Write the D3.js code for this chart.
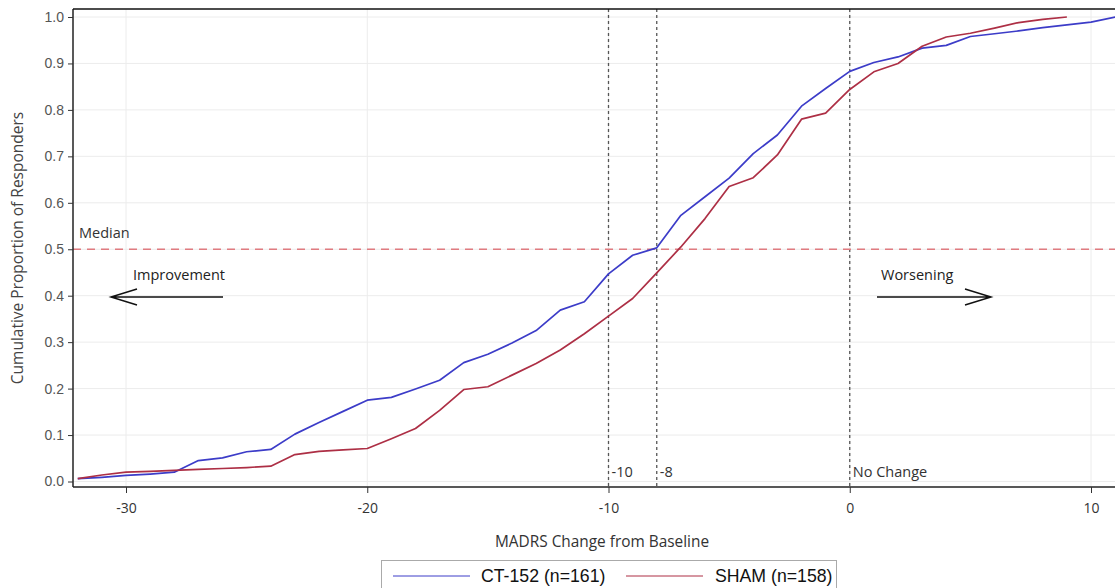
<!DOCTYPE html>
<html>
<head>
<meta charset="utf-8">
<script src="https://cdn.jsdelivr.net/npm/d3@7"></script>
<style>
  body { margin: 0; background: #fff; }
  svg { display: block; }
</style>
</head>
<body>
<div id="chart"></div>
<script>
const width = 1115
const height = 588

// MADRS change values (x) and cumulative proportions
const ctChange = [-32, -31, -30, -29, -28, -27, -26, -25, -24, -23, -22, -21, -20, -19, -18, -17, -16, -15, -14, -13, -12, -11, -10, -9, -8, -7, -6, -5, -4, -3, -2, -1, 0, 1, 2, 3, 4, 5, 6, 7, 8, 9, 10, 11]
const ctProp = [0.006, 0.009, 0.013, 0.016, 0.020, 0.045, 0.051, 0.064, 0.069, 0.102, 0.127, 0.151, 0.175, 0.181, 0.199, 0.218, 0.256, 0.274, 0.298, 0.325, 0.369, 0.387, 0.447, 0.487, 0.503, 0.573, 0.613, 0.653, 0.706, 0.746, 0.808, 0.846, 0.883, 0.902, 0.914, 0.933, 0.939, 0.958, 0.964, 0.970, 0.977, 0.983, 0.989, 1.0]

const shamChange = [-32, -31, -30, -29, -28, -27, -26, -25, -24, -23, -22, -21, -20, -19, -18, -17, -16, -15, -14, -13, -12, -11, -10, -9, -8, -7, -6, -5, -4, -3, -2, -1, 0, 1, 2, 3, 4, 5, 6, 7, 8, 9]
const shamProp = [0.006, 0.014, 0.020, 0.022, 0.024, 0.026, 0.028, 0.030, 0.033, 0.058, 0.065, 0.068, 0.071, 0.092, 0.114, 0.153, 0.198, 0.204, 0.229, 0.254, 0.283, 0.318, 0.356, 0.394, 0.449, 0.505, 0.566, 0.635, 0.654, 0.703, 0.780, 0.793, 0.844, 0.882, 0.900, 0.937, 0.957, 0.965, 0.976, 0.988, 0.995, 1.0]

const xTicks = [-30, -20, -10, 0, 10]
const yTicks = [0, 0.1, 0.2, 0.3, 0.4, 0.5, 0.6, 0.7, 0.8, 0.9, 1.0]

// reference lines
const refLines = [
  { value: -10, label: "-10" },
  { value: -8, label: "-8" },
  { value: 0, label: "No Change" }
]
const medianValue = 0.5

const seriesInfo = [
  { name: "CT-152 (n=161)", color: "#3c3cc8", xs: ctChange, ys: ctProp },
  { name: "SHAM (n=158)", color: "#ad2f45", xs: shamChange, ys: shamProp }
]

const plot = { left: 73, right: 1116, top: 9, bottom: 487 }

const x = d3.scaleLinear().domain([-30, 10]).range([126, 1091])
const y = d3.scaleLinear().domain([0, 1]).range([481.5, 17])

const svg = d3.select("#chart").append("svg")
    .attr("width", width)
    .attr("height", height)

svg.append("defs").append("clipPath")
    .attr("id", "clip")
  .append("rect")
    .attr("x", plot.left)
    .attr("y", plot.top)
    .attr("width", plot.right - plot.left)
    .attr("height", plot.bottom - plot.top)

// gridlines
const grid = svg.append("g").attr("stroke", "#ececec").attr("stroke-width", 1)
grid.selectAll("line.gy")
  .data(yTicks)
  .join("line")
    .attr("class", "gy")
    .attr("x1", plot.left).attr("x2", plot.right)
    .attr("y1", d => y(d)).attr("y2", d => y(d))
grid.selectAll("line.gx")
  .data(xTicks)
  .join("line")
    .attr("class", "gx")
    .attr("x1", d => x(d)).attr("x2", d => x(d))
    .attr("y1", plot.top).attr("y2", plot.bottom)

// vertical reference lines
const ref = svg.append("g")
ref.selectAll("line")
  .data(refLines)
  .join("line")
    .attr("x1", d => x(d.value)).attr("x2", d => x(d.value))
    .attr("y1", plot.top).attr("y2", plot.bottom)
    .attr("stroke", "#555")
    .attr("stroke-width", 1.3)
    .attr("stroke-dasharray", "3,3")
ref.selectAll("text")
  .data(refLines)
  .join("text")
    .attr("x", d => x(d.value) + 3)
    .attr("y", 477)
    .attr("font-family", "Open Sans, sans-serif")
    .attr("font-size", 14.5)
    .attr("fill", "#333")
    .text(d => d.label)

// median line
svg.append("line")
    .attr("x1", plot.left).attr("x2", plot.right)
    .attr("y1", y(medianValue)).attr("y2", y(medianValue))
    .attr("stroke", "#e07b80")
    .attr("stroke-width", 1.5)
    .attr("stroke-dasharray", "8,6")
svg.append("text")
    .attr("x", 79).attr("y", 238)
    .attr("font-family", "Open Sans, sans-serif")
    .attr("font-size", 14.5)
    .attr("fill", "#333")
    .text("Median")

// direction annotations
const arrowY = 297
svg.append("text")
    .attr("x", 133).attr("y", 280)
    .attr("font-family", "Open Sans, sans-serif")
    .attr("font-size", 14.5)
    .attr("fill", "#222")
    .text("Improvement")
svg.append("text")
    .attr("x", 881).attr("y", 280)
    .attr("font-family", "Open Sans, sans-serif")
    .attr("font-size", 14.5)
    .attr("fill", "#222")
    .text("Worsening")

const arrows = svg.append("g").attr("stroke", "#111").attr("stroke-width", 1.5).attr("fill", "none")
arrows.append("path").attr("d", `M223,${arrowY} H111 M137,${arrowY - 8} L111,${arrowY} L137,${arrowY + 8}`)
arrows.append("path").attr("d", `M877,${arrowY} H991 M965,${arrowY - 8} L991,${arrowY} L965,${arrowY + 8}`)

// series lines
const line = d3.line()
    .x(d => x(d[0]))
    .y(d => y(d[1]))

svg.append("g")
    .attr("clip-path", "url(#clip)")
  .selectAll("path")
  .data(seriesInfo)
  .join("path")
    .attr("fill", "none")
    .attr("stroke", d => d.color)
    .attr("stroke-width", 1.7)
    .attr("stroke-linejoin", "round")
    .attr("d", d => line(d3.zip(d.xs, d.ys)))

// axes
const yAxis = svg.append("g")
    .attr("transform", `translate(${plot.left},0)`)
    .call(d3.axisLeft(y).tickValues(yTicks).tickFormat(d3.format(".1f")).tickSize(5).tickSizeOuter(0))
yAxis.select(".domain").attr("d", `M0,${plot.top}V${plot.bottom}`).attr("stroke", "#222").attr("stroke-width", 1.5)
yAxis.selectAll(".tick line").attr("stroke", "#333")
yAxis.selectAll(".tick text")
    .attr("font-family", "Liberation Sans, Arial, sans-serif")
    .attr("font-size", 14)
    .attr("fill", "#555")
    .attr("x", -9)

const xAxis = svg.append("g")
    .attr("transform", `translate(0,${plot.bottom})`)
    .call(d3.axisBottom(x).tickValues(xTicks).tickFormat(d3.format("d")).tickSize(6).tickSizeOuter(0))
xAxis.select(".domain").attr("d", `M${plot.left},0H${plot.right}`).attr("stroke", "#222").attr("stroke-width", 1.5)
xAxis.selectAll(".tick line").attr("stroke", "#333")
xAxis.selectAll(".tick text")
    .attr("font-family", "Open Sans, sans-serif")
    .attr("font-size", 14)
    .attr("fill", "#333")
    .attr("y", 16)
    .text(d => d < 0 ? "-" + Math.abs(d) : d)

// top frame
svg.append("line")
    .attr("x1", plot.left).attr("x2", plot.right)
    .attr("y1", plot.top).attr("y2", plot.top)
    .attr("stroke", "#111").attr("stroke-width", 1.3)

// axis titles
svg.append("text")
    .attr("x", 602).attr("y", 547)
    .attr("text-anchor", "middle")
    .attr("font-family", "Open Sans, sans-serif")
    .attr("font-size", 15.4)
    .attr("fill", "#333")
    .text("MADRS Change from Baseline")
svg.append("text")
    .attr("transform", `translate(23,248) rotate(-90)`)
    .attr("text-anchor", "middle")
    .attr("font-family", "Open Sans, sans-serif")
    .attr("font-size", 15.5)
    .attr("fill", "#444")
    .text("Cumulative Proportion of Responders")

// legend
const legend = svg.append("g").attr("transform", "translate(381,560)")
legend.append("rect")
    .attr("x", 0.5).attr("y", 0.5)
    .attr("width", 455).attr("height", 40)
    .attr("fill", "#fff")
    .attr("stroke", "#aaa")
const legendItem = legend.selectAll("g.item")
  .data(seriesInfo)
  .join("g")
    .attr("class", "item")
    .attr("transform", (d, i) => `translate(${i === 0 ? 12 : 245},16)`)
legendItem.append("line")
    .attr("x1", 0).attr("x2", 77)
    .attr("stroke", d => d.color)
    .attr("stroke-width", 1)
legendItem.append("text")
    .attr("x", (d, i) => i === 0 ? 88 : 89)
    .attr("y", 6)
    .attr("font-family", "Liberation Sans, Arial, sans-serif")
    .attr("font-size", 17.7)
    .attr("fill", "#111")
    .text(d => d.name)
</script>
</body>
</html>
